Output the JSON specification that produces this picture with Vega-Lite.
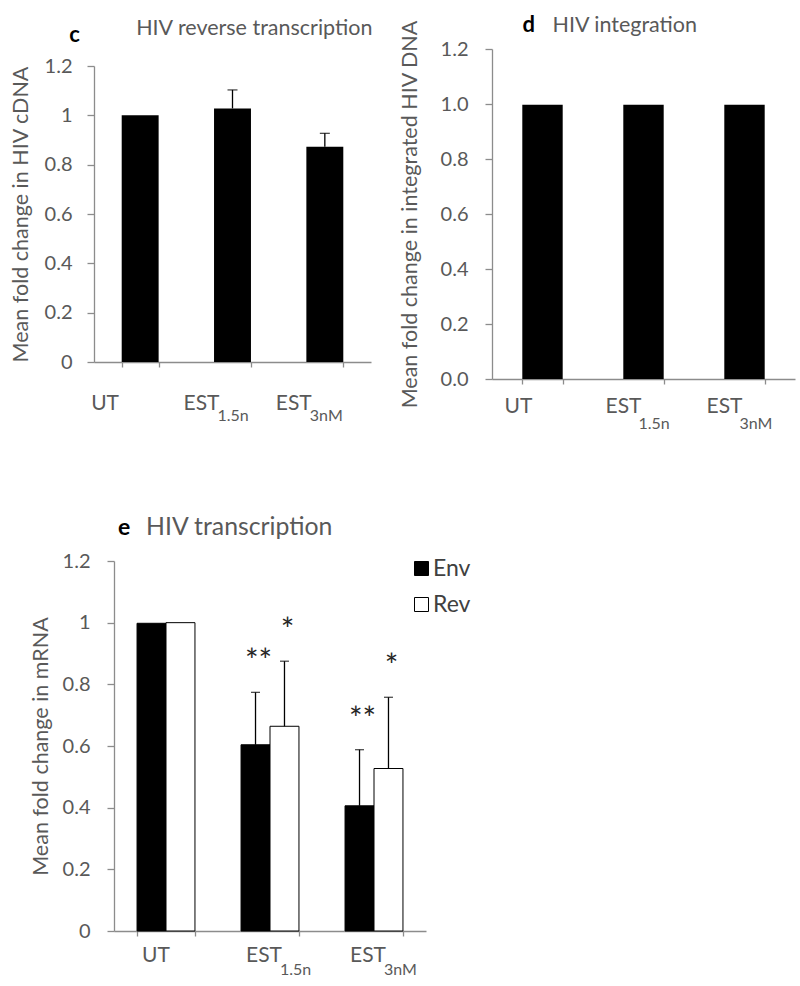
{
  "$schema": "https://vega.github.io/schema/vega-lite/v6.json",
  "background": "white",
  "padding": {"left": 10, "top": 14, "right": 2, "bottom": 2},
  "config": {
    "font": "Lato",
    "view": {"stroke": null},
    "axis": {"grid": false, "domainColor": "#8c8c8c", "tickColor": "#8c8c8c", "domainWidth": 1.3, "tickWidth": 1.3, "labelColor": "#595959", "titleColor": "#595959", "labelFontSize": 20, "titleFontSize": 21.5, "titleFontWeight": "normal", "labelFont": "Lato", "titleFont": "Lato"}
  },
  "spacing": 83,
  "resolve": {"scale": {"color": "independent"}, "legend": {"color": "independent"}},
  "vconcat": [
    {
      "spacing": 25,
      "hconcat": [
        {
          "width": 277,
          "height": 313,
          "data": {"values": [
            {"cat": "UT", "main": "UT", "sub": "", "mean": 1.0},
            {"cat": "EST1.5n", "main": "EST", "sub": "1.5n", "mean": 1.028, "upper": 1.103},
            {"cat": "EST3nM", "main": "EST", "sub": "3nM", "mean": 0.873, "upper": 0.927}
          ]},
          "encoding": {
            "x": {"field": "cat", "type": "nominal", "sort": null, "scale": {"paddingInner": 0.6, "paddingOuter": 0.3}, "axis": {"title": null, "labels": false, "tickBand": "extent", "tickSize": 5}}
          },
          "layer": [
            {"mark": {"type": "bar", "color": "black"}, "encoding": {"y": {"field": "mean", "type": "quantitative", "scale": {"domain": [0, 1.2], "nice": false, "range": [313, 17]}, "axis": {"title": "Mean fold change in HIV cDNA", "values": [0, 0.2, 0.4, 0.6, 0.8, 1, 1.2], "format": "~g", "tickSize": 7, "labelPadding": 15, "titlePadding": 12}}}},
            {"transform": [{"filter": "isValid(datum.upper)"}], "mark": {"type": "rule", "color": "black", "strokeWidth": 1.3}, "encoding": {"y": {"field": "mean", "type": "quantitative"}, "y2": {"field": "upper"}}},
            {"transform": [{"filter": "isValid(datum.upper)"}], "mark": {"type": "tick", "color": "black", "thickness": 1.3, "size": 10}, "encoding": {"y": {"field": "upper", "type": "quantitative"}}},
            {"mark": {"type": "text", "align": "left", "baseline": "alphabetic", "dx": -49, "dy": 48, "fontSize": 21, "color": "#595959"}, "encoding": {"y": {"datum": 0, "type": "quantitative"}, "text": {"field": "main"}}},
            {"mark": {"type": "text", "align": "left", "baseline": "alphabetic", "dx": -15, "dy": 59, "fontSize": 16, "color": "#595959"}, "encoding": {"y": {"datum": 0, "type": "quantitative"}, "text": {"field": "sub"}}},
            {"data": {"values": [{"panel": "c", "title": "HIV reverse transcription"}]}, "mark": {"type": "text", "align": "left", "baseline": "alphabetic", "fontWeight": "bold", "fontSize": 22, "color": "black", "dx": -71, "dy": -24}, "encoding": {"x": {"datum": "UT"}, "y": {"datum": 1.2, "type": "quantitative"}, "text": {"field": "panel"}}},
            {"data": {"values": [{"panel": "c", "title": "HIV reverse transcription"}]}, "mark": {"type": "text", "align": "left", "baseline": "alphabetic", "fontSize": 21.5, "color": "#595959", "dx": -4, "dy": -31}, "encoding": {"x": {"datum": "UT"}, "y": {"datum": 1.2, "type": "quantitative"}, "text": {"field": "title"}}}
          ]
        },
        {
          "width": 303,
          "height": 330,
          "data": {"values": [
            {"cat": "UT", "main": "UT", "sub": "", "mean": 0.997},
            {"cat": "EST1.5n", "main": "EST", "sub": "1.5n", "mean": 0.997},
            {"cat": "EST3nM", "main": "EST", "sub": "3nM", "mean": 0.997}
          ]},
          "encoding": {
            "x": {"field": "cat", "type": "nominal", "sort": null, "scale": {"paddingInner": 0.6, "paddingOuter": 0.3}, "axis": {"title": null, "labels": false, "tickBand": "extent", "tickSize": 5}}
          },
          "layer": [
            {"mark": {"type": "bar", "color": "black"}, "encoding": {"y": {"field": "mean", "type": "quantitative", "scale": {"domain": [0, 1.2], "nice": false}, "axis": {"title": "Mean fold change in integrated HIV DNA", "values": [0, 0.2, 0.4, 0.6, 0.8, 1, 1.2], "format": ".1f", "tickSize": 7, "labelPadding": 17, "titlePadding": 19}}}},
            {"mark": {"type": "text", "align": "left", "baseline": "alphabetic", "dx": -38, "dy": 34, "fontSize": 21, "color": "#595959"}, "encoding": {"y": {"datum": 0, "type": "quantitative"}, "text": {"field": "main"}}},
            {"mark": {"type": "text", "align": "left", "baseline": "alphabetic", "dx": -5, "dy": 50, "fontSize": 16, "color": "#595959"}, "encoding": {"y": {"datum": 0, "type": "quantitative"}, "text": {"field": "sub"}}},
            {"data": {"values": [{"panel": "d", "title": "HIV integration"}]}, "mark": {"type": "text", "align": "left", "baseline": "alphabetic", "fontWeight": "bold", "fontSize": 22, "color": "black", "dx": -20, "dy": -17}, "encoding": {"x": {"datum": "UT"}, "y": {"datum": 1.2, "type": "quantitative"}, "text": {"field": "panel"}}},
            {"data": {"values": [{"panel": "d", "title": "HIV integration"}]}, "mark": {"type": "text", "align": "left", "baseline": "alphabetic", "fontSize": 21.5, "color": "#595959", "dx": 10, "dy": -17}, "encoding": {"x": {"datum": "UT"}, "y": {"datum": 1.2, "type": "quantitative"}, "text": {"field": "title"}}}
          ]
        }
      ]
    },
    {
      "width": 332,
      "height": 370,
      "data": {"values": [
        {"cat": "UT", "main": "UT", "sub": "", "series": "Env", "mean": 0.998},
        {"cat": "UT", "main": "UT", "sub": "", "series": "Rev", "mean": 1.0},
        {"cat": "EST1.5n", "main": "EST", "sub": "1.5n", "series": "Env", "mean": 0.604, "upper": 0.774, "sig": "**"},
        {"cat": "EST1.5n", "main": "EST", "sub": "1.5n", "series": "Rev", "mean": 0.664, "upper": 0.875, "sig": "*"},
        {"cat": "EST3nM", "main": "EST", "sub": "3nM", "series": "Env", "mean": 0.406, "upper": 0.588, "sig": "**"},
        {"cat": "EST3nM", "main": "EST", "sub": "3nM", "series": "Rev", "mean": 0.527, "upper": 0.758, "sig": "*"}
      ]},
      "encoding": {
        "x": {"field": "cat", "type": "nominal", "sort": null, "scale": {"paddingInner": 0.443, "paddingOuter": 0.2215, "range": [20, 332]}, "axis": {"title": null, "labels": false, "tickBand": "extent", "tickSize": 5}}
      },
      "layer": [
        {"mark": {"type": "bar", "stroke": "black", "strokeWidth": 1}, "encoding": {
          "xOffset": {"field": "series", "type": "nominal", "scale": {"paddingInner": 0, "paddingOuter": 0}},
          "y": {"field": "mean", "type": "quantitative", "scale": {"domain": [0, 1.2], "nice": false}, "axis": {"title": "Mean fold change in mRNA", "values": [0, 0.2, 0.4, 0.6, 0.8, 1, 1.2], "format": "~g", "tickSize": 7, "labelPadding": 17, "titlePadding": 10, "offset": -20}},
          "color": {"field": "series", "type": "nominal", "scale": {"domain": ["Env", "Rev"], "range": ["black", "white"]}, "legend": {"title": null, "orient": "none", "legendX": 316, "legendY": -4, "symbolType": "square", "symbolSize": 196, "symbolStrokeColor": "black", "symbolStrokeWidth": 1, "labelFontSize": 23, "labelColor": "#404040", "rowPadding": 12, "labelOffset": 0, "labelFont": "Lato"}}
        }},
        {"transform": [{"filter": "isValid(datum.upper)"}], "mark": {"type": "rule", "color": "black", "strokeWidth": 1.3}, "encoding": {"xOffset": {"field": "series", "type": "nominal"}, "y": {"field": "mean", "type": "quantitative"}, "y2": {"field": "upper"}}},
        {"transform": [{"filter": "isValid(datum.upper)"}], "mark": {"type": "tick", "color": "black", "thickness": 1.3, "size": 9}, "encoding": {"xOffset": {"field": "series", "type": "nominal"}, "y": {"field": "upper", "type": "quantitative"}}},
        {"transform": [{"filter": "isValid(datum.sig)"}], "mark": {"type": "text", "align": "center", "baseline": "alphabetic", "dy": -20, "dx": 3, "fontSize": 32, "color": "#262626"}, "encoding": {"xOffset": {"field": "series", "type": "nominal"}, "y": {"field": "upper", "type": "quantitative"}, "text": {"field": "sig"}}},
        {"transform": [{"filter": "datum.series == 'Env'"}], "mark": {"type": "text", "align": "left", "baseline": "alphabetic", "dx": -24, "dy": 31, "fontSize": 21, "color": "#595959"}, "encoding": {"y": {"datum": 0, "type": "quantitative"}, "text": {"field": "main"}}},
        {"transform": [{"filter": "datum.series == 'Env'"}], "mark": {"type": "text", "align": "left", "baseline": "alphabetic", "dx": 10, "dy": 44, "fontSize": 16, "color": "#595959"}, "encoding": {"y": {"datum": 0, "type": "quantitative"}, "text": {"field": "sub"}}},
        {"data": {"values": [{"panel": "e", "title": "HIV transcription"}]}, "mark": {"type": "text", "align": "left", "baseline": "alphabetic", "fontWeight": "bold", "fontSize": 23, "color": "black", "dx": -48, "dy": -26}, "encoding": {"x": {"datum": "UT"}, "y": {"datum": 1.2, "type": "quantitative"}, "text": {"field": "panel"}}},
        {"data": {"values": [{"panel": "e", "title": "HIV transcription"}]}, "mark": {"type": "text", "align": "left", "baseline": "alphabetic", "fontSize": 24.8, "color": "#595959", "dx": -20, "dy": -26}, "encoding": {"x": {"datum": "UT"}, "y": {"datum": 1.2, "type": "quantitative"}, "text": {"field": "title"}}}
      ]
    }
  ]
}
